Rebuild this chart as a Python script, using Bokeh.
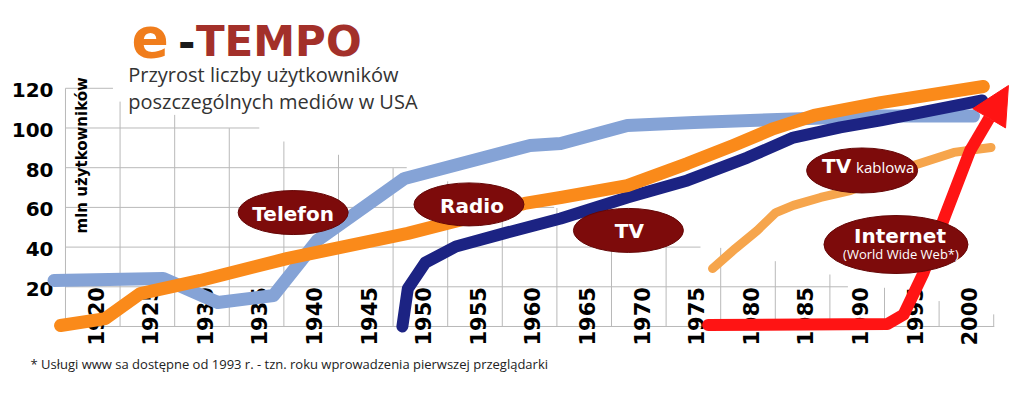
import math
from bokeh.plotting import figure
from bokeh.models import ColumnDataSource, Range1d, Arrow, NormalHead
from bokeh.core.properties import value
from bokeh.embed import file_html
from bokeh.resources import INLINE

# ---------------- data ----------------
phone_years = [1916.2, 1926.2, 1931.2, 1936.3, 1940.3, 1948.3, 1959.8, 1962.6, 1968.7, 1974.8, 1983.9, 1991.9, 2000.4]
phone_vals = [23.2, 24.2, 12.1, 15.6, 43.3, 74.6, 91.2, 92.2, 101.3, 102.8, 104.5, 106.0, 106.0]

radio_years = [1916.8, 1920.9, 1924.1, 1929.6, 1937.6, 1948.6, 1959.3, 1962.6, 1968.7, 1974.2, 1978.4, 1982.1, 1985.8, 1991.9, 2001.3]
radio_vals = [0.5, 4.0, 16.6, 23.2, 34.3, 46.9, 62.0, 65.0, 71.0, 82.1, 91.2, 99.7, 106.3, 112.8, 120.9]

tv_years = [1948.1, 1948.6, 1950.2, 1953.0, 1957.4, 1962.6, 1968.7, 1974.2, 1979.7, 1983.9, 1988.2, 1991.9, 2001.2]
tv_vals = [0.0, 19.1, 32.2, 40.3, 46.9, 54.4, 65.0, 73.6, 85.1, 95.2, 100.3, 103.8, 113.9]

cable_years = [1976.5, 1978.6, 1980.6, 1982.3, 1983.9, 1986.4, 1989.1, 1994.9, 1998.6, 2002.0]
cable_vals = [29.2, 39.3, 48.4, 57.4, 61.0, 65.0, 68.5, 81.1, 87.7, 90.2]

net_years = [1976.1, 1992.5, 1994.0, 1995.8, 1997.8, 2000.1, 2003.6]
net_vals = [0.8, 1.2, 6.0, 26.7, 55.9, 88.7, 121.4]

x_tick_years = [1920, 1925, 1930, 1935, 1940, 1945, 1950, 1955, 1960, 1965, 1970, 1975, 1980, 1985, 1990, 1995, 2000]
x_tick_labels = [str(v) for v in x_tick_years]
y_ticks = [20, 40, 60, 80, 100, 120]
y_tick_labels = [str(v) for v in y_ticks]

# staircase grid as drawn in the picture
grid_h_vals = [120, 100, 80, 60, 40, 20, 0]
grid_h_ends = [1921.6, 1935.0, 1948.5, 1962.0, 1975.4, 1988.9, 2002.3]
grid_v_years = [1917.25, 1922.25, 1927.25, 1932.25, 1937.25, 1942.25, 1947.25, 1952.25, 1957.25,
                1962.25, 1967.25, 1972.25, 1977.25, 1982.25, 1987.25, 1992.25, 1997.25, 2002.25]
grid_v_tops = [120, 113.3, 106.6, 99.9, 93.2, 86.5, 79.8, 73.1, 66.4, 59.7, 53.0, 46.3, 39.6, 32.9, 26.2, 19.5, 12.8, 6.1]
grid_left = 1917.25

# bubble labels
bubble_names = ["Telefon", "Radio", "TV", "TV", "Internet"]
bubble_x = [1938.1, 1954.2, 1968.8, 1990.2, 1993.3]
bubble_y = [57.4, 61.5, 48.4, 78.6, 41.3]

# ---------------- figure ----------------
p = figure(width=1024, height=394,
           x_range=Range1d(1911.30, 2005.07), y_range=Range1d(-34.26, 164.23),
           x_axis_location=None, y_axis_location=None,
           min_border_left=0, min_border_right=0, min_border_top=0, min_border_bottom=0,
           output_backend="svg", toolbar_location=None)
p.grid.visible = False
p.outline_line_color = None
p.background_fill_color = "white"
p.border_fill_color = "white"

# grid
gcol = "#b9b9b9"
p.segment(x0=[grid_left] * len(grid_h_vals), y0=grid_h_vals, x1=grid_h_ends, y1=grid_h_vals,
          line_color=gcol, line_width=1)
p.segment(x0=grid_v_years, y0=[0] * len(grid_v_years), x1=grid_v_years, y1=grid_v_tops,
          line_color=gcol, line_width=1)

# y tick labels
ys = ColumnDataSource(dict(y=y_ticks, t=y_tick_labels))
p.text(x=1916.15, y="y", text="t", source=ys, y_offset=2,
       text_align="right", text_baseline="middle",
       text_font=value("DejaVu Sans"), text_font_style="bold", text_font_size="20px",
       text_color="black")

# x tick labels (rotated, inside the grid)
xs = ColumnDataSource(dict(x=x_tick_years, t=x_tick_labels))
p.text(x="x", y=-9.6, text="t", source=xs, angle=math.pi / 2,
       text_align="left", text_baseline="middle",
       text_font=value("DejaVu Sans"), text_font_style="bold", text_font_size="21px",
       text_color="black")

# series
def draw(xv, yv, color, w):
    p.line(xv, yv, line_color=color, line_width=w, line_cap="round", line_join="round")

draw(phone_years, phone_vals, "#85a3d6", 13)
draw(tv_years, tv_vals, "#1c2383", 12)
draw(radio_years, radio_vals, "#fa8a1a", 13)
draw(cable_years, cable_vals, "#f6a54c", 9)
draw(net_years[:-1], net_vals[:-1], "#ff1414", 12)
p.add_layout(Arrow(x_start=net_years[-2], y_start=net_vals[-2], x_end=net_years[-1], y_end=net_vals[-1],
                   line_color="#ff1414", line_width=12,
                   end=NormalHead(size=38, fill_color="#ff1414", line_color="#ff1414")))

# bubbles
bw = [110, 110, 110, 111, 144]
bh = [44, 43, 44, 45, 58]
p.ellipse(x=bubble_x, y=bubble_y, width=bw, height=bh, width_units="screen", height_units="screen",
          fill_color="#7d0b0b", line_color="#650707", line_width=1)

bold_src = ColumnDataSource(dict(
    x=bubble_x, y=bubble_y, t=bubble_names,
    dx=[0, 3, 1, -11, 4],
    dy=[1, 2, 1, -4, -9],
    al=["center", "center", "center", "right", "center"],
))
p.text(x="x", y="y", text="t", source=bold_src, x_offset="dx", y_offset="dy",
       text_align="al", text_baseline="middle",
       text_font=value("DejaVu Sans"), text_font_style="bold", text_font_size="20px",
       text_color="white")

reg_src = ColumnDataSource(dict(
    x=[bubble_x[3], bubble_x[4]], y=[bubble_y[3], bubble_y[4]],
    t=["kablowa", "(World Wide Web*)"],
    dx=[-6, 5], dy=[-3, 9], al=["left", "center"], fs=["15px", "13px"],
))
p.text(x="x", y="y", text="t", source=reg_src, x_offset="dx", y_offset="dy",
       text_align="al", text_baseline="middle",
       text_font=value("Open Sans"), text_font_size="fs", text_color="white")

# titles & notes
def txt(x, y, s, font, size, color, bold=False, **kw):
    p.text(x=[x], y=[y], text=[s], text_font=value(font), text_font_size=size,
           text_font_style="bold" if bold else "normal", text_color=color,
           text_baseline="middle", **kw)

txt(1923.3, 136.5, "e", "DejaVu Sans", "55px", "#f07d1c", True, y_offset=-19)
txt(1927.55, 136.5, "-", "DejaVu Sans", "42px", "#1a1a1a", True, y_offset=-14.5)
txt(1929.2, 136.5, "TEMPO", "DejaVu Sans", "42px", "#a3302a", True, y_offset=-14.5)
txt(1923.0, 122.9, "Przyrost liczby użytkowników", "Open Sans", "20px", "#333333", y_offset=-7.8)
txt(1923.0, 109.3, "poszczególnych mediów w USA", "Open Sans", "20px", "#333333", y_offset=-7.8)
txt(1918.72, 46.9, "mln użytkowników", "DejaVu Sans", "15px", "black", True,
    angle=math.pi / 2, text_align="left")
txt(1914.05, -21.2, "* Usługi www sa dostępne od 1993 r. - tzn. roku wprowadzenia pierwszej przeglądarki",
    "Open Sans", "13px", "#222222", y_offset=-5)

open("out.html", "w").write(file_html(p, INLINE))
